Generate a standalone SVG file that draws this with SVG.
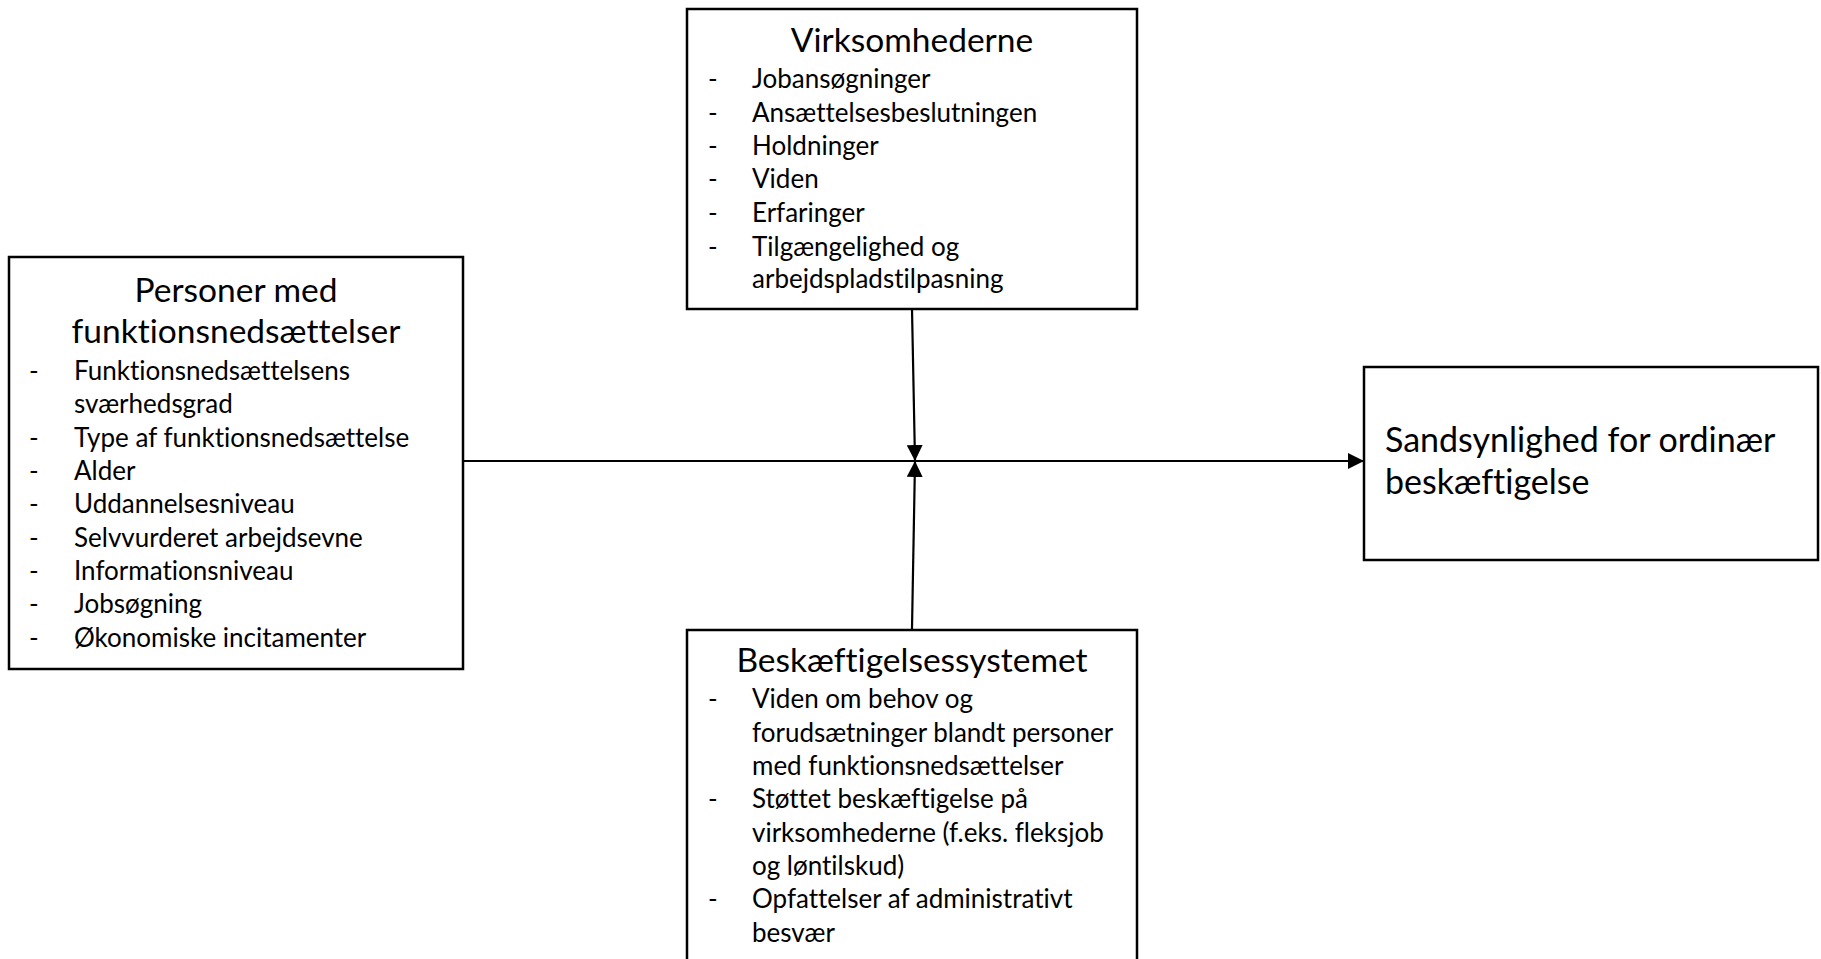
<svg xmlns="http://www.w3.org/2000/svg" width="1821" height="959" viewBox="0 0 1821 959">
<defs>
<marker id="arrB" markerWidth="16" markerHeight="16" refX="16" refY="8" orient="auto" markerUnits="userSpaceOnUse" viewBox="0 0 16 16">
<path d="M0,0 L16,8 L0,16 Z" fill="#000"/>
</marker>
<style>
.box{fill:#fff;stroke:#000;stroke-width:2.5}
.t{font-family:Lato,"Open Sans","Liberation Sans",sans-serif;fill:#000;font-variant-ligatures:none;font-feature-settings:"liga" 0,"clig" 0}
.h{font-size:33.5px;text-anchor:middle}
.s{font-size:34px}
.i{font-size:26px}
.c{fill:none;stroke:#000;stroke-width:2.2}
</style>
</defs>
<rect width="1821" height="959" fill="#fff"/>
<g id="connectors">
<line class="c" x1="463" y1="461" x2="1364" y2="461" marker-end="url(#arrB)"/>
<line class="c" x1="912" y1="309" x2="915" y2="461" marker-end="url(#arrB)"/>
<line class="c" x1="912" y1="629" x2="915" y2="461" marker-end="url(#arrB)"/>
</g>
<g id="virksomhederne">
<rect class="box" x="687" y="9" width="450" height="300"/>
<text class="t h" x="912" y="52">Virksomhederne</text>
<g class="t i">
<text x="708" y="88">-</text><text x="752" y="88">Jobansøgninger</text>
<text x="708" y="122">-</text><text x="752" y="122">Ansættelsesbeslutningen</text>
<text x="708" y="155">-</text><text x="752" y="155">Holdninger</text>
<text x="708" y="188">-</text><text x="752" y="188">Viden</text>
<text x="708" y="222">-</text><text x="752" y="222">Erfaringer</text>
<text x="708" y="256">-</text><text x="752" y="256">Tilgængelighed og</text>
<text x="752" y="288">arbejdspladstilpasning</text>
</g>
</g>
<g id="personer">
<rect class="box" x="9" y="257" width="454" height="412"/>
<text class="t h" x="236" y="302">Personer med</text>
<text class="t h" x="236" y="343">funktionsnedsættelser</text>
<g class="t i">
<text x="29" y="380">-</text><text x="74" y="380">Funktionsnedsættelsens</text>
<text x="74" y="413">sværhedsgrad</text>
<text x="29" y="447">-</text><text x="74" y="447">Type af funktionsnedsættelse</text>
<text x="29" y="480">-</text><text x="74" y="480">Alder</text>
<text x="29" y="513">-</text><text x="74" y="513">Uddannelsesniveau</text>
<text x="29" y="547">-</text><text x="74" y="547">Selvvurderet arbejdsevne</text>
<text x="29" y="580">-</text><text x="74" y="580">Informationsniveau</text>
<text x="29" y="613">-</text><text x="74" y="613">Jobsøgning</text>
<text x="29" y="647">-</text><text x="74" y="647">Økonomiske incitamenter</text>
</g>
</g>
<g id="sandsynlighed">
<rect class="box" x="1364" y="367" width="454" height="193"/>
<text class="t s" x="1385" y="452">Sandsynlighed for ordinær</text>
<text class="t s" x="1385" y="494">beskæftigelse</text>
</g>
<g id="beskaeftigelsessystemet">
<rect class="box" x="687" y="630" width="450" height="345"/>
<text class="t h" x="912" y="672">Beskæftigelsessystemet</text>
<g class="t i">
<text x="708" y="708">-</text><text x="752" y="708">Viden om behov og</text>
<text x="752" y="742">forudsætninger blandt personer</text>
<text x="752" y="775">med funktionsnedsættelser</text>
<text x="708" y="808">-</text><text x="752" y="808">Støttet beskæftigelse på</text>
<text x="752" y="842">virksomhederne (f.eks. fleksjob</text>
<text x="752" y="875">og løntilskud)</text>
<text x="708" y="908">-</text><text x="752" y="908">Opfattelser af administrativt</text>
<text x="752" y="942">besvær</text>
</g>
</g>
</svg>
